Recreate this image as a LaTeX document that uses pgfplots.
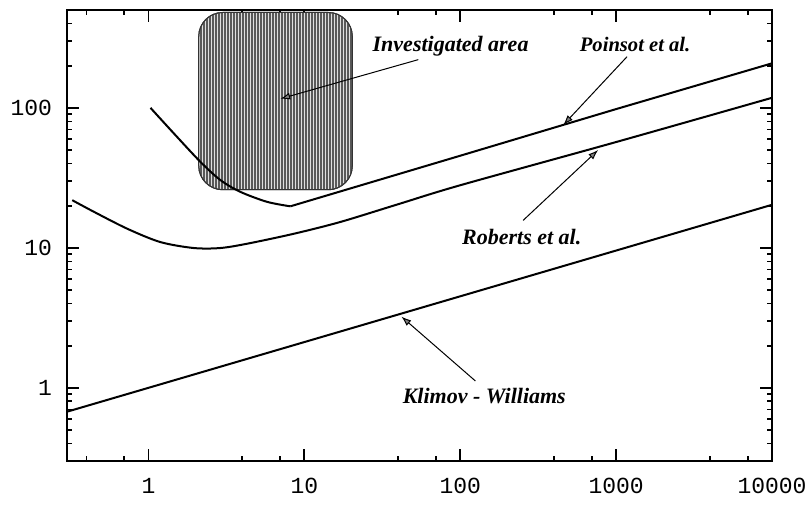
\documentclass[border=0pt]{standalone}
\usepackage{fontspec}
\setmainfont{Liberation Serif}
\newfontfamily\monofont{Liberation Mono}
\usepackage{pgfplots}
\pgfplotsset{compat=1.18}
\usetikzlibrary{patterns.meta,arrows.meta}
\begin{document}
\begin{tikzpicture}
\begin{loglogaxis}[
  scale only axis, width=352.5pt, height=225.5pt,
  xmin=0.3, xmax=10000, ymin=0.3, ymax=500,
  xtick={1,10,100,1000,10000}, xticklabels={1,10,100,1000,10000},
  minor xtick={0.4,0.7,4,7,40,70,400,700,4000,7000},
  ytick={1,10,100}, yticklabels={1,10,100},
  minor ytick={0.4,0.5,0.6,0.7,0.8,0.9,2,3,4,5,6,7,8,9,20,30,40,50,60,70,80,90,200,300,400},
  tick align=inside, xtick pos=both, ytick pos=both,
  major tick length=6pt, minor tick length=2.5pt,
  every tick/.style={black, line width=0.9pt},
  axis line style={line width=1.2pt},
  tick label style={font=\monofont\fontsize{11.5}{12}\selectfont},
  yticklabel style={xshift=-4pt},
  xticklabel style={yshift=-5pt},
  clip=true,
]
% investigated area
\addplot[draw=black!80, line width=0.5pt, rounded corners=12pt, fill=gray!25,
  postaction={pattern={Lines[angle=90,distance=1.5pt,line width=0.6pt]}, pattern color=black!65}]
  coordinates {(2.1,26) (20.3,26) (20.3,480) (2.1,480)} -- cycle;
% Poinsot et al.
\addplot[black, line width=1pt, smooth, tension=0.5] coordinates {
  (1.03,100) (1.45,65.9) (2.15,41.2) (2.89,30.5) (3.89,25.1) (5.77,21.3) (8.13,19.8)};
\addplot[black, line width=1pt] coordinates {
  (8.13,19.8) (100,45.5) (1000,98) (10000,208)};
% Roberts et al.
\addplot[black, line width=1pt, smooth, tension=0.5] coordinates {
  (0.324,21.9) (0.446,18.1) (0.73,13.7) (1.19,11.0) (1.95,9.97) (2.89,9.97) (4.29,10.7) (8.54,12.6) (17,15.3) (40,20.5) (100,28) (1000,57) (10000,118)};
% Klimov - Williams
\addplot[black, line width=1pt] coordinates {
  (0.3,0.675) (1,1) (10000,20.3)};
% annotations
\begin{scope}[font=\bfseries\itshape\fontsize{11}{13}\selectfont]
\node at (axis cs:86.7,274) {Investigated area};
\node[font=\bfseries\itshape\fontsize{10.3}{12}\selectfont] at (axis cs:1324,283) {Poinsot et al.};
\node at (axis cs:248,11.9) {Roberts et al.};
\node at (axis cs:142.6,0.876) {Klimov - Williams};
\end{scope}
\begin{scope}[line width=0.5pt, -{Latex[length=5pt,width=3.5pt,fill=gray]}]
\draw (axis cs:53.8,221) -- (axis cs:7.0,116);
\draw (axis cs:1175,232) -- (axis cs:458,75.5);
\draw (axis cs:253,15.7) -- (axis cs:767,50);
\draw (axis cs:125,1.12) -- (axis cs:41.9,3.23);
\end{scope}
\end{loglogaxis}
\pgfresetboundingbox
\path ([shift={(-33.5pt,-22.5pt)}]current axis.south west) rectangle ([shift={(20pt,5pt)}]current axis.north east);
\end{tikzpicture}
\end{document}
